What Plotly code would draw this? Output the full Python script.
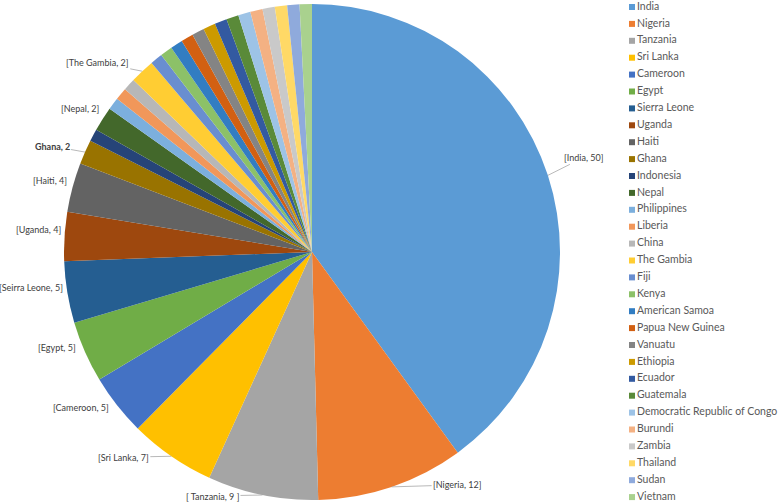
import math

import plotly.graph_objects as go

COUNTRIES = [
    "India", "Nigeria", "Tanzania", "Sri Lanka", "Cameroon", "Egypt",
    "Sierra Leone", "Uganda", "Haiti", "Ghana", "Indonesia", "Nepal",
    "Philippines", "Liberia", "China", "The Gambia", "Fiji", "Kenya",
    "American Samoa", "Papua New Guinea", "Vanuatu", "Ethiopia", "Ecuador",
    "Guatemala", "Democratic Republic of Congo", "Burundi", "Zambia",
    "Thailand", "Sudan", "Vietnam",
]
COUNTS = [50, 12, 9, 7, 5, 5, 5, 4, 4, 2, 1, 2, 1, 1, 1, 2,
          1, 1, 1, 1, 1, 1, 1, 1, 1, 1, 1, 1, 1, 1]

# labels shown on the chart (text as it appears, incl. the original typo)
LABEL_TEXT = {
    "India": "[India, 50]",
    "Nigeria": "[Nigeria, 12]",
    "Tanzania": "[ Tanzania, 9 ]",
    "Sri Lanka": "[Sri Lanka, 7]",
    "Cameroon": "[Cameroon, 5]",
    "Egypt": "[Egypt, 5]",
    "Sierra Leone": "[Seirra Leone, 5]",
    "Uganda": "[Uganda, 4]",
    "Haiti": "[Haiti, 4]",
    "Ghana": "<b>Ghana, 2</b>",
    "Nepal": "[Nepal, 2]",
    "The Gambia": "[The Gambia, 2]",
}

# Office palette: accents, then shades / tints of them
COLORS = [
    "#5B9BD5", "#ED7D31", "#A5A5A5", "#FFC000", "#4472C4", "#70AD47",
    "#255E91", "#9E480E", "#636363", "#997300", "#264478", "#43682B",
    "#7CAFDD", "#F1975A", "#B7B7B7", "#FFCD33", "#698ED0", "#8CC168",
    "#327DC2", "#D26012", "#848484", "#CC9A00", "#335AA1", "#5A8A39",
    "#9DC3E6", "#F4B183", "#C9C9C9", "#FFD966", "#8FAADC", "#A9D18E",
]

W, H = 779, 504
CX, CY, R = 312, 252, 248  # pie centre / radius in px

# leader-line labels: text-centre offset (px) from the slice edge
LEADER_OFFSET = {
    "India": (36, -18),
    "Nigeria": (66, -2),
    "Tanzania": (-50, 1),
    "Sri Lanka": (-48, 1),
    "Ghana": (-33, -6),
    "The Gambia": (-45, -9),
}
# plain labels: right edge of text offset (px) from the slice edge
PLAIN_OFFSET = {
    "Cameroon": (-6, 2),
    "Egypt": (-7, -4),
    "Sierra Leone": (-2, -5),
    "Uganda": (-1, -7),
    "Haiti": (-4, -7),
    "Nepal": (-2, -11),
}

fig = go.Figure()
fig.add_trace(
    go.Pie(
        labels=COUNTRIES,
        values=COUNTS,
        sort=False,
        direction="clockwise",
        rotation=0,
        marker=dict(colors=COLORS, line=dict(width=0)),
        textinfo="none",
        showlegend=False,
        domain=dict(x=[(CX - R) / W, (CX + R) / W], y=[(H - CY - R) / H, (H - CY + R) / H]),
        hoverinfo="label+value",
    )
)

# hand-built legend column (plotly's own legend can't pack 30 rows in 504px)
idx = list(range(len(COUNTRIES)))
fig.add_trace(
    go.Scatter(
        x=[12] * len(COUNTRIES), y=idx, mode="markers",
        marker=dict(symbol="square", size=6, color=COLORS),
        xaxis="x2", yaxis="y2", showlegend=False, hoverinfo="skip",
    )
)
fig.add_trace(
    go.Scatter(
        x=[17] * len(COUNTRIES), y=idx, mode="text", text=COUNTRIES,
        textposition="middle right",
        textfont=dict(family="Lato", size=10.5, color="#595959"),
        xaxis="x2", yaxis="y2", showlegend=False, hoverinfo="skip",
    )
)

total = sum(COUNTS)
annotations = []
cum = 0
for name, val in zip(COUNTRIES, COUNTS):
    mid = (cum + val / 2) / total * 2 * math.pi
    cum += val
    if name not in LABEL_TEXT:
        continue
    ex = CX + R * math.sin(mid)
    ey = CY - R * math.cos(mid)
    ann = dict(
        text=LABEL_TEXT[name],
        xref="paper", yref="paper",
        font=dict(family="Lato", size=9, color="#404040"),
    )
    if name in LEADER_OFFSET:
        dx, dy = LEADER_OFFSET[name]
        ann.update(x=ex / W, y=1 - ey / H, ax=dx, ay=dy, showarrow=True,
                   arrowhead=0, arrowwidth=0.8, arrowcolor="#A6A6A6", standoff=0)
    else:
        dx, dy = PLAIN_OFFSET[name]
        ann.update(x=(ex + dx) / W, y=1 - (ey + dy) / H, showarrow=False,
                   xanchor="right", yanchor="middle")
    annotations.append(ann)

spacing = 16.9
first_y = 7
fig.update_layout(
    width=W, height=H,
    margin=dict(l=0, r=0, t=0, b=0),
    paper_bgcolor="white",
    plot_bgcolor="rgba(0,0,0,0)",
    xaxis2=dict(domain=[620 / W, 1], range=[0, W - 620], visible=False, fixedrange=True),
    yaxis2=dict(domain=[0, 1], range=[(H - first_y) / spacing, -first_y / spacing],
                visible=False, fixedrange=True),
    annotations=annotations,
)

fig.write_html(
    "out.html",
    config={"displayModeBar": False},
    post_script="document.body.style.margin = '0';",
)
